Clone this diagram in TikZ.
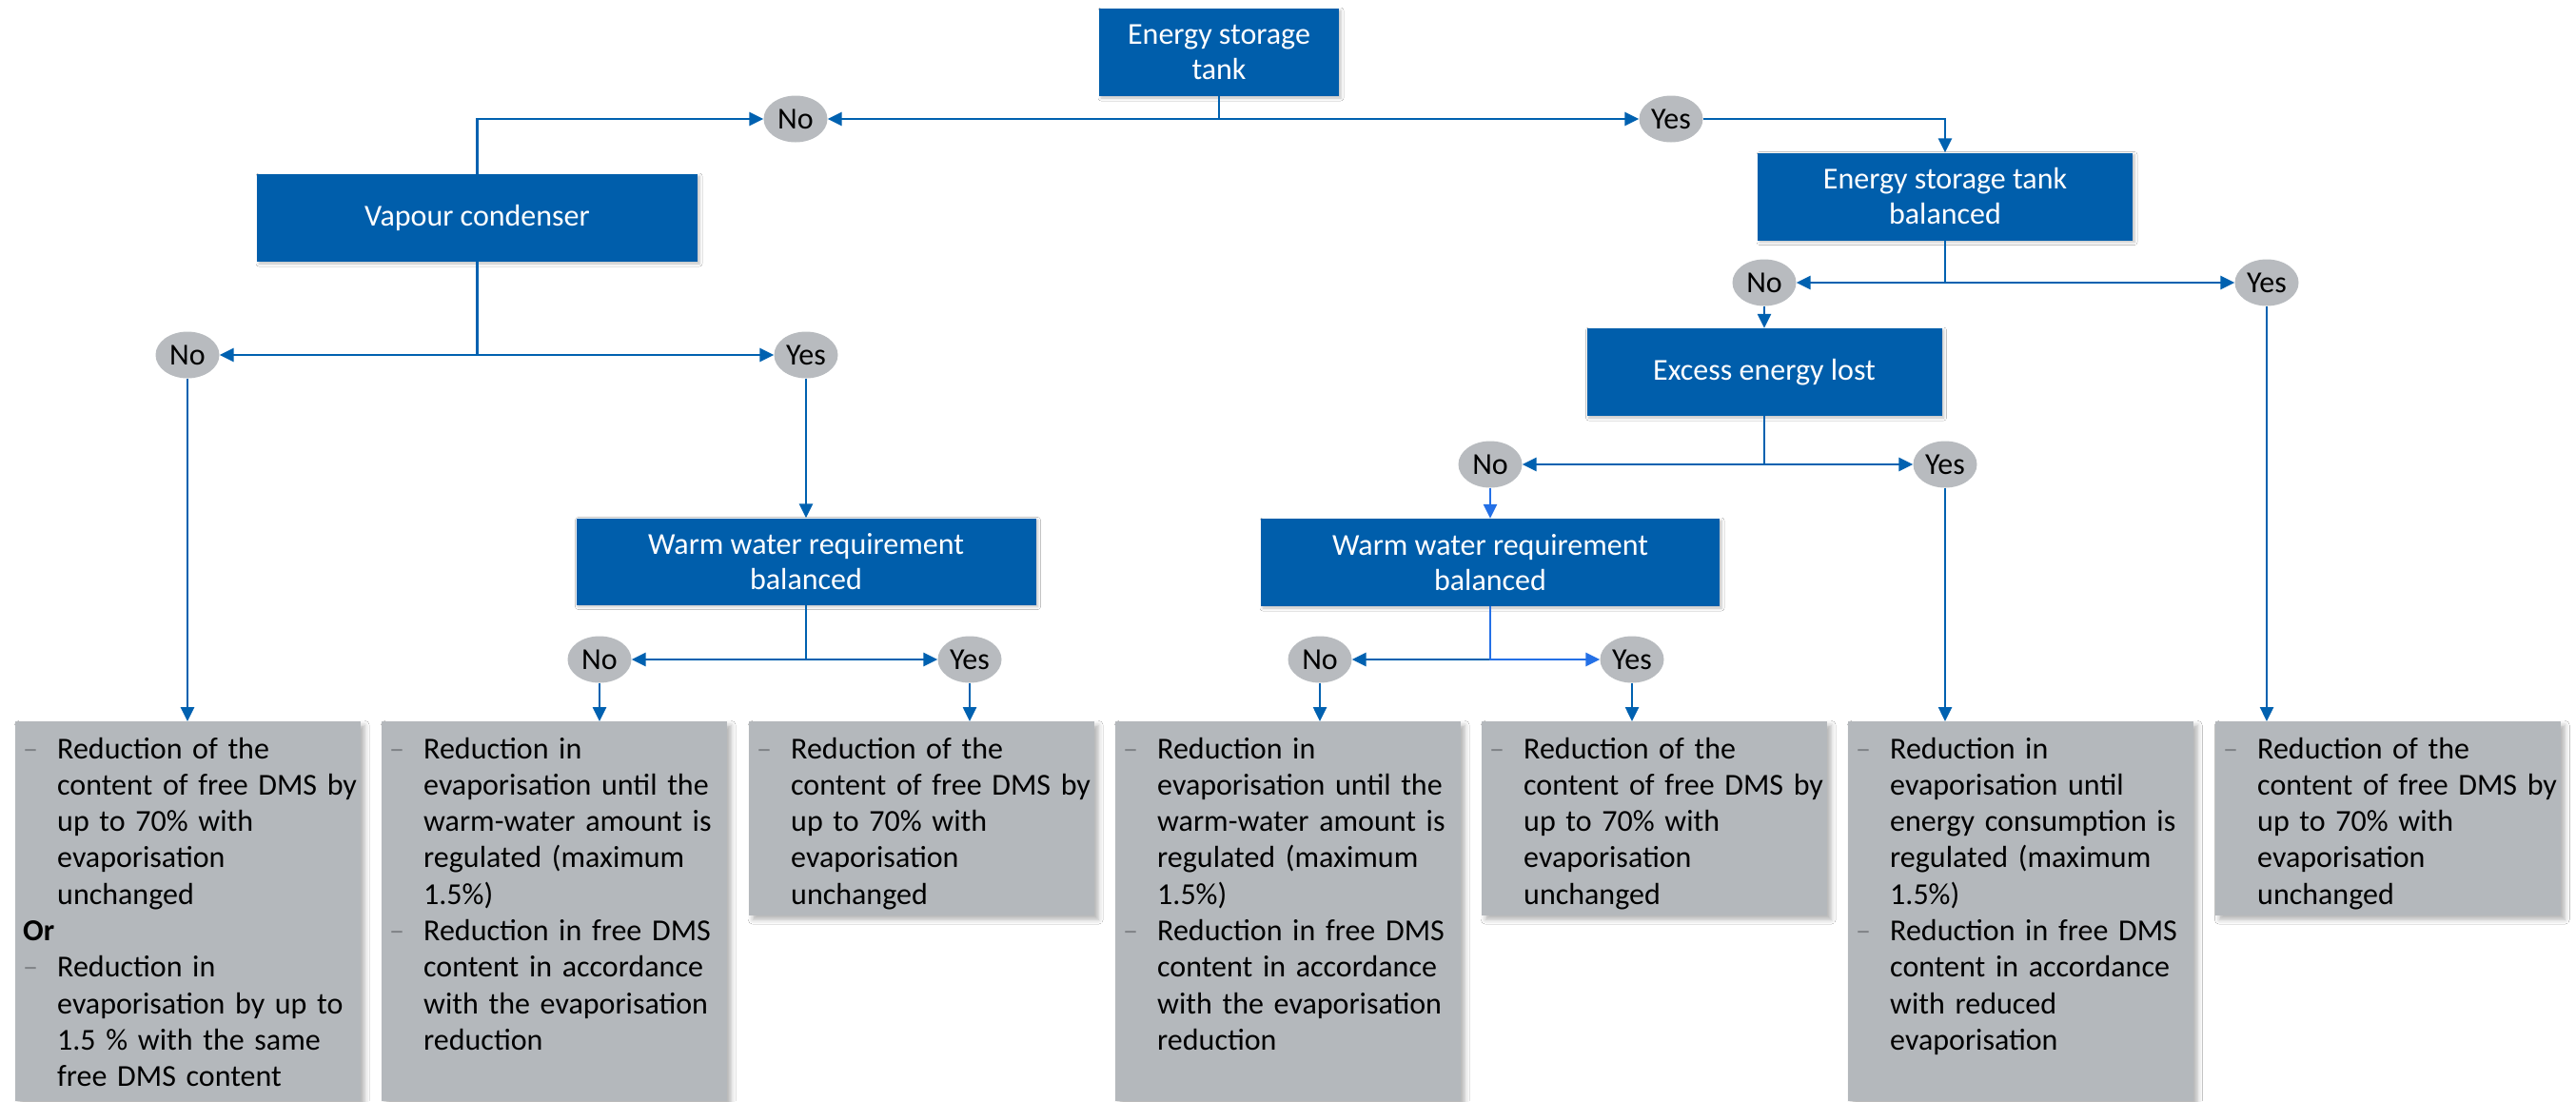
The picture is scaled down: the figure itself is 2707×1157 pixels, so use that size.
\documentclass[tikz,border=0pt]{standalone}
\usepackage{fontspec}
\setmainfont{Carlito}
\usetikzlibrary{arrows.meta,shapes.geometric,shadows.blur,calc}
\definecolor{bluebox}{HTML}{005EAB}
\definecolor{arrowblue}{HTML}{0061B0}
\definecolor{lightarrow}{HTML}{2470E6}
\definecolor{graybox}{HTML}{B4B8BC}
\definecolor{circfill}{HTML}{B8BBBF}
\definecolor{dashc}{HTML}{808387}
\newcommand\ditem{\noindent\llap{\makebox[36pt][l]{\textcolor{dashc}{\textendash}}}}
\newcommand\seventytxt{\ditem Reduction of the\\content of free DMS by\\up to 70\% with\\evaporisation\\unchanged}
\newcommand\warmtxt{\ditem Reduction in\\evaporisation until the\\warm-water amount is\\regulated (maximum\\1.5\%)\par
\ditem Reduction in free DMS\\content in accordance\\with the evaporisation\\reduction}
\begin{document}
\begin{tikzpicture}[x=1pt,y=-1pt,
  bbox/.style={rectangle, fill=bluebox, text=white, align=center, inner sep=0pt,
    font=\fontsize{32}{37}\selectfont,
    blur shadow={shadow xshift=2pt,shadow yshift=-2pt,shadow blur radius=3pt,shadow opacity=25}},
  gbox/.style={rectangle, fill=graybox, inner sep=0pt, anchor=north west, minimum width=363pt,
    blur shadow={shadow xshift=4pt,shadow yshift=-4pt,shadow blur radius=5pt,shadow opacity=30}},
  ans/.style={ellipse, fill=circfill, minimum width=67pt, minimum height=49pt, inner sep=0pt,
    font=\fontsize{32}{37}\selectfont},
  btext/.style={anchor=base west, text width=330pt, align=left, inner sep=0pt,
    font=\fontsize{32}{38.3}\selectfont},
  conn/.style={draw=arrowblue, line width=2.6pt, -{Triangle[length=15pt,width=14pt]}},
  lconn/.style={conn, draw=lightarrow, -{Triangle[length=15pt,width=14pt,fill=lightarrow]}},
]
\useasboundingbox[fill=white] (0,0) rectangle (2707,1157);

% decision boxes
\node[bbox, minimum width=252pt, minimum height=92pt] (top) at (1281,55) {Energy storage\\tank};
\node[bbox, minimum width=463pt, minimum height=92pt] (vc) at (501.5,229) {Vapour condenser};
\node[bbox, minimum width=394pt, minimum height=92pt] (estb) at (2044,206.5) {Energy storage tank\\balanced};
\node[bbox, minimum width=373pt, minimum height=92pt] (eel) at (1854,391) {Excess energy lost};
\node[bbox, minimum width=483pt, minimum height=91pt] (ww1) at (847,590) {Warm water requirement\\balanced};
\node[bbox, minimum width=482pt, minimum height=92pt] (ww2) at (1566,591) {Warm water requirement\\balanced};

% answers
\node[ans] (no0) at (836,125) {No};
\node[ans] (yes0) at (1756,125) {Yes};
\node[ans] (no1) at (197,373) {No};
\node[ans] (yes1) at (847,373) {Yes};
\node[ans] (no2) at (1854,297) {No};
\node[ans] (yes2) at (2382,297) {Yes};
\node[ans] (no3) at (1566,488) {No};
\node[ans] (yes3) at (2044,488) {Yes};
\node[ans] (no4) at (1387,693) {No};
\node[ans] (yes4) at (1715,693) {Yes};
\node[ans] (no5) at (630,693) {No};
\node[ans] (yes5) at (1019,693) {Yes};

% result boxes
\node[gbox, minimum height=399pt] (b1) at (16,758) {};
\node[gbox, minimum height=399pt] (b2) at (401,758) {};
\node[gbox, minimum height=204pt] (b3) at (787,758) {};
\node[gbox, minimum height=399pt] (b4) at (1172,758) {};
\node[gbox, minimum height=204pt] (b5) at (1557,758) {};
\node[gbox, minimum height=399pt] (b6) at (1942,758) {};
\node[gbox, minimum height=204pt] (b7) at (2328,758) {};

\node[btext] (t1) at ($(b1.north west)+(44,39)$) {\seventytxt\par
\noindent\llap{\makebox[36pt][l]{\bfseries Or}}\par
\ditem Reduction in\\evaporisation by up to\\1.5 \% with the same\\free DMS content};
\node[btext] (t2) at ($(b2.north west)+(44,39)$) {\warmtxt};
\node[btext] (t3) at ($(b3.north west)+(44,39)$) {\seventytxt};
\node[btext] (t4) at ($(b4.north west)+(44,39)$) {\warmtxt};
\node[btext] (t5) at ($(b5.north west)+(44,39)$) {\seventytxt};
\node[btext] (t6) at ($(b6.north west)+(44,39)$) {\ditem Reduction in\\evaporisation until\\energy consumption is\\regulated (maximum\\1.5\%)\par
\ditem Reduction in free DMS\\content in accordance\\with reduced\\evaporisation};
\node[btext] (t7) at ($(b7.north west)+(44,39)$) {\seventytxt};

% connectors
\draw[conn] (top.south) |- (no0.east);
\draw[conn] (top.south) |- (yes0.west);
\draw[conn] (vc.north) |- (no0.west);
\draw[conn] (yes0.east) -| (estb.north);

\draw[conn] (vc.south) |- (no1.east);
\draw[conn] (vc.south) |- (yes1.west);
\draw[conn] (no1.south) -- (no1.south |- b1.north);
\draw[conn] (yes1.south) -- (ww1.north);

\draw[conn] (ww1.south) |- (no5.east);
\draw[conn] (ww1.south) |- (yes5.west);
\draw[conn] (no5.south) -- (no5.south |- b2.north);
\draw[conn] (yes5.south) -- (yes5.south |- b3.north);

\draw[conn] (estb.south) |- (no2.east);
\draw[conn] (estb.south) |- (yes2.west);
\draw[conn] (no2.south) -- (eel.north);
\draw[conn] (yes2.south) -- (yes2.south |- b7.north);

\draw[conn] (eel.south) |- (no3.east);
\draw[conn] (eel.south) |- (yes3.west);
\draw[lconn] (no3.south) -- (ww2.north);
\draw[conn] (yes3.south) -- (yes3.south |- b6.north);

\draw[conn] (ww2.south) |- (no4.east);
\draw[lconn] (ww2.south) |- (yes4.west);
\draw[conn] (no4.south) -- (no4.south |- b4.north);
\draw[conn] (yes4.south) -- (yes4.south |- b5.north);
\end{tikzpicture}
\end{document}
